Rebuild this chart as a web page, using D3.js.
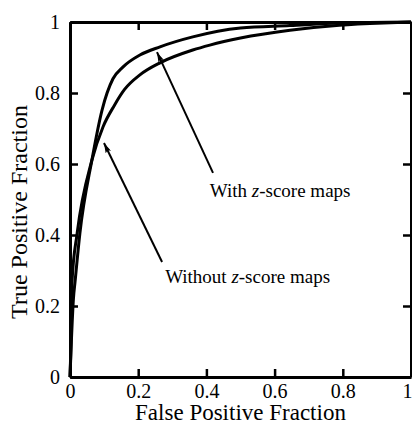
<!DOCTYPE html>
<html>
<head>
<meta charset="utf-8">
<script src="https://cdn.jsdelivr.net/npm/d3@7"></script>
<style>
  html, body { margin: 0; padding: 0; background: #fff; }
  svg { display: block; }
</style>
</head>
<body>
<div id="svg"></div>
<script>
var h = 427;
var w = 412;

var border = { top: 22, bottom: 50, left: 70, right: 1 }

// ROC curves (FPF, TPF)
var withFpf    = [0, 0.004, 0.01, 0.015, 0.029, 0.064, 0.094, 0.126, 0.155, 0.205, 0.264, 0.36, 0.5, 0.645, 0.79, 1];
var withTpf    = [0, 0.10, 0.22, 0.27, 0.405, 0.61, 0.752, 0.84, 0.873, 0.907, 0.93, 0.958, 0.983, 0.99, 0.997, 1];
var withoutFpf = [0, 0.003, 0.006, 0.021, 0.064, 0.097, 0.13, 0.16, 0.205, 0.264, 0.36, 0.41, 0.5, 0.645, 0.79, 0.94, 1];
var withoutTpf = [0, 0.10, 0.27, 0.405, 0.61, 0.705, 0.765, 0.81, 0.851, 0.885, 0.921, 0.935, 0.955, 0.977, 0.991, 0.998, 1];

var tickValues = [0, 0.2, 0.4, 0.6, 0.8, 1];
var tickLabels = ['0', '0.2', '0.4', '0.6', '0.8', '1'];

// annotations: label anchor and arrow tail -> tip, in data units
var labels      = ['With', 'Without'];
var labelX      = [0.41, 0.279];
var labelY      = [0.506, 0.265];
var arrowFromX  = [0.4194, 0.27];
var arrowFromY  = [0.575, 0.324];
var arrowToX    = [0.2551, 0.0997];
var arrowToY    = [0.915, 0.659];

var font = '"Liberation Serif", "Times New Roman", serif';

const svg = d3.select('#svg')
              .append('svg')
              .attr('height', h)
              .attr('width', w)

var x = d3.scaleLinear()
          .domain([0, 1])
          .range([border.left, w - border.right])

var y = d3.scaleLinear()
          .domain([0, 1])
          .range([h - border.bottom, border.top])

var fmt = d => tickLabels[tickValues.indexOf(d)];

svg.append('defs')
   .append('marker')
   .attr('id', 'head')
   .attr('markerUnits', 'userSpaceOnUse')
   .attr('viewBox', '0 0 10 6')
   .attr('refX', 10)
   .attr('refY', 3)
   .attr('markerWidth', 10)
   .attr('markerHeight', 6)
   .attr('orient', 'auto')
   .append('path')
   .attr('d', 'M0,0 L10,3 L0,6 L2,3 z')
   .attr('fill', '#000')

// bottom + left axes carry labels, top + right just ticks
var xAxis = svg.append('g')
    .attr('class', 'axis')
    .attr('transform', `translate(0, ${y(0)})`)
    .call(d3.axisBottom(x).tickValues(tickValues).tickFormat(fmt).tickSizeInner(-8).tickSizeOuter(0).tickPadding(7))

svg.append('g')
    .attr('class', 'axis')
    .attr('transform', `translate(${x(0)}, 0)`)
    .call(d3.axisLeft(y).tickValues(tickValues).tickFormat(fmt).tickSizeInner(-8).tickSizeOuter(0).tickPadding(10))

svg.append('g')
    .attr('class', 'axis')
    .attr('transform', `translate(0, ${y(1)})`)
    .call(d3.axisTop(x).tickValues(tickValues).tickFormat('').tickSizeInner(-8).tickSizeOuter(0))

svg.append('g')
    .attr('class', 'axis')
    .attr('transform', `translate(${x(1)}, 0)`)
    .call(d3.axisRight(y).tickValues(tickValues).tickFormat('').tickSizeInner(-8).tickSizeOuter(0))

svg.selectAll('.axis path').attr('stroke', '#000').attr('stroke-width', 3)
svg.selectAll('.axis line').attr('stroke', '#000').attr('stroke-width', 2.5)
svg.selectAll('.axis text')
    .attr('fill', '#000')
    .style('font-family', font)
    .style('font-size', '20px')

// last x label sits on the window edge, keep it inside
xAxis.selectAll('.tick text')
    .filter(d => d === 1)
    .attr('text-anchor', 'end')
    .attr('x', 1)

var line = d3.line()
             .x(d => x(d[0]))
             .y(d => y(d[1]))
             .curve(d3.curveMonotoneX)

var curves = [d3.zip(withFpf, withTpf), d3.zip(withoutFpf, withoutTpf)];

svg.selectAll('.roc')
    .data(curves)
    .enter()
        .append('path')
        .attr('class', 'roc')
        .attr('d', line)
        .attr('fill', 'none')
        .attr('stroke', '#000')
        .attr('stroke-width', 3)
        .attr('stroke-linejoin', 'round')

svg.selectAll('.arrow')
    .data(labels)
    .enter()
        .append('line')
        .attr('class', 'arrow')
        .attr('x1', (d, i) => x(arrowFromX[i]))
        .attr('y1', (d, i) => y(arrowFromY[i]))
        .attr('x2', (d, i) => x(arrowToX[i]))
        .attr('y2', (d, i) => y(arrowToY[i]))
        .attr('stroke', '#000')
        .attr('stroke-width', 2)
        .attr('marker-end', 'url(#head)')

var notes = svg.selectAll('.note')
    .data(labels)
    .enter()
        .append('text')
        .attr('class', 'note')
        .attr('x', (d, i) => x(labelX[i]))
        .attr('y', (d, i) => y(labelY[i]))
        .style('font-family', font)
        .style('font-size', '19px')
        .attr('fill', '#000')

notes.append('tspan').text(d => d + ' ')
notes.append('tspan').style('font-style', 'italic').text('z')
notes.append('tspan').text('-score maps')

svg.append('text')
    .attr('x', (x(0) + x(1)) / 2)
    .attr('y', 420)
    .attr('text-anchor', 'middle')
    .style('font-family', font)
    .style('font-size', '23px')
    .text('False Positive Fraction')

svg.append('text')
    .attr('transform', 'rotate(-90)')
    .attr('x', -212)
    .attr('y', 27)
    .attr('text-anchor', 'middle')
    .style('font-family', font)
    .style('font-size', '24px')
    .text('True Positive Fraction')
</script>
</body>
</html>
